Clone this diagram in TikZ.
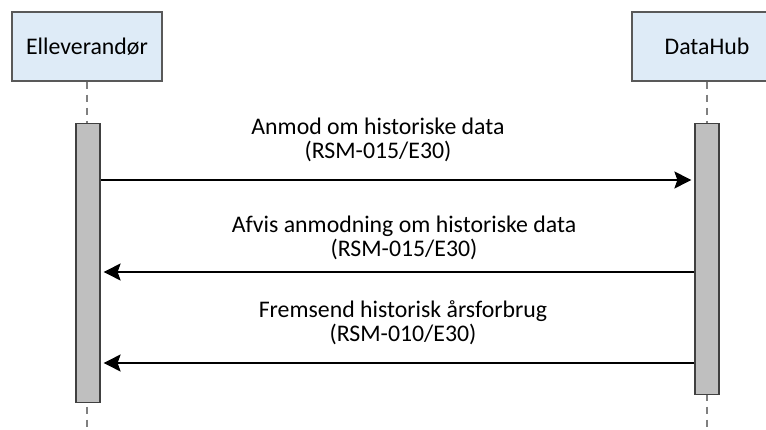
\documentclass[tikz,border=0pt]{standalone}
\usepackage{fontspec}
\setmainfont{Carlito}
\usepackage{xcolor}
\usetikzlibrary{arrows.meta,positioning}
\definecolor{headfill}{RGB}{222,235,247}
\definecolor{barfill}{RGB}{191,191,191}

\begin{document}
\begin{tikzpicture}[x=1pt, y=-1pt,
  txt/.style={font=\fontsize{23.8}{24.5}\selectfont},
  head/.style={draw=black!65, fill=headfill, line width=1.2pt, txt,
               minimum width=150pt, minimum height=69pt},
  life/.style={draw=black!50, line width=1.2pt, dash pattern=on 7pt off 6pt},
  actbar/.style={draw=black!75, fill=barfill, line width=1.2pt,
                 minimum width=24pt, inner sep=0pt},
  lbl/.style={txt, align=center, inner sep=0pt, anchor=base},
  msg/.style={line width=1.8pt, shorten >=3pt,
              -{Stealth[length=17pt, width=17pt, inset=3pt]}}]
\useasboundingbox (0,0) rectangle (766,430);
\clip (0,0) rectangle (766,430);
\coordinate (end) at (0,430);
\node[head] (elev) at (87,46.5) {Elleverandør};
\node[head] (hub) at (707,46.5) {DataHub};
\draw[life] (elev.south) -- (elev.south |- end);
\draw[life] (hub.south) -- (hub.south |- end);
\node[actbar, minimum height=279pt, anchor=north] (lbar) at (88,123) {};
\node[actbar, minimum height=271pt, anchor=north] (rbar) at (707,123) {};
\node[lbl] (lab1) at (378,159) {Anmod om historiske data\\(RSM-015/E30)};
\node[lbl] (lab2) at (404,257) {Afvis anmodning om historiske data\\(RSM-015/E30)};
\node[lbl] (lab3) at (403,342) {Fremsend historisk årsforbrug\\(RSM-010/E30)};
\coordinate (m1) at (0,180);
\coordinate (m2) at (0,272);
\coordinate (m3) at (0,363);
\foreach \m/\a/\b in {m1/lbar.east/rbar.west,m2/rbar.west/lbar.east,m3/rbar.west/lbar.east}
  \draw[msg] (\a |- \m) -- (\b |- \m);
\end{tikzpicture}
\end{document}
